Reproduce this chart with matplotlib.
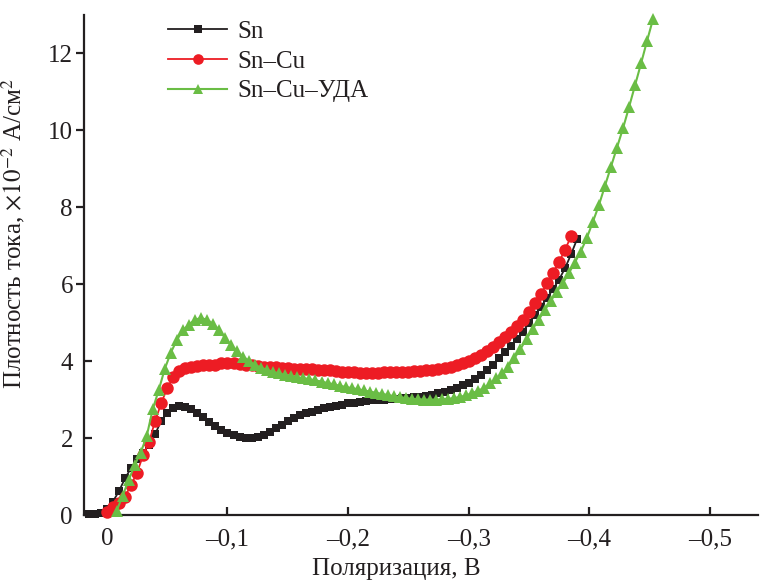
import matplotlib
matplotlib.use("Agg")
import matplotlib.pyplot as plt
from matplotlib.ticker import FixedLocator, FixedFormatter

plt.rcParams['font.family'] = ['Liberation Serif', 'DejaVu Serif']
plt.rcParams['mathtext.fontset'] = 'stix'

# ---------------- data ----------------
sn_x = [0.015, 0.01, 0.005, 0.0, -0.005, -0.01, -0.015, -0.02, -0.025, -0.03,
        -0.035, -0.04, -0.045, -0.05, -0.055, -0.06, -0.065, -0.07, -0.075, -0.08,
        -0.085, -0.09, -0.095, -0.1, -0.105, -0.11, -0.115, -0.12, -0.125, -0.13,
        -0.135, -0.14, -0.145, -0.15, -0.155, -0.16, -0.165, -0.17, -0.175, -0.18,
        -0.185, -0.19, -0.195, -0.2, -0.205, -0.21, -0.215, -0.22, -0.225, -0.23,
        -0.235, -0.24, -0.245, -0.25, -0.255, -0.26, -0.265, -0.27, -0.275, -0.28,
        -0.285, -0.29, -0.295, -0.3, -0.305, -0.31, -0.315, -0.32, -0.325, -0.33,
        -0.335, -0.34, -0.345, -0.35, -0.355, -0.36, -0.365, -0.37, -0.375, -0.38,
        -0.385, -0.39]
sn_y = [0.03, 0.03, 0.05, 0.15, 0.35, 0.62, 0.95, 1.22, 1.45, 1.62,
        1.82, 2.1, 2.45, 2.65, 2.77, 2.84, 2.82, 2.75, 2.66, 2.55,
        2.43, 2.32, 2.22, 2.14, 2.07, 2.02, 1.99, 1.99, 2.03, 2.09,
        2.17, 2.26, 2.35, 2.44, 2.52, 2.59, 2.64, 2.69, 2.74, 2.78,
        2.81, 2.84, 2.87, 2.9, 2.92, 2.95, 2.97, 2.98, 2.99, 3.0,
        3.01, 3.02, 3.03, 3.04, 3.06, 3.08, 3.1, 3.13, 3.17, 3.21,
        3.26, 3.31, 3.37, 3.44, 3.53, 3.63, 3.76, 3.91, 4.07, 4.24,
        4.4, 4.57, 4.77, 4.98, 5.2, 5.42, 5.64, 5.87, 6.12, 6.42,
        6.78, 7.18]

sncu_x = [0.0, -0.005, -0.01, -0.015, -0.02, -0.025, -0.03, -0.035, -0.04, -0.045,
          -0.05, -0.055, -0.06, -0.065, -0.07, -0.075, -0.08, -0.085, -0.09, -0.095,
          -0.1, -0.105, -0.11, -0.115, -0.12, -0.125, -0.13, -0.135, -0.14, -0.145,
          -0.15, -0.155, -0.16, -0.165, -0.17, -0.175, -0.18, -0.185, -0.19, -0.195,
          -0.2, -0.205, -0.21, -0.215, -0.22, -0.225, -0.23, -0.235, -0.24, -0.245,
          -0.25, -0.255, -0.26, -0.265, -0.27, -0.275, -0.28, -0.285, -0.29, -0.295,
          -0.3, -0.305, -0.31, -0.315, -0.32, -0.325, -0.33, -0.335, -0.34, -0.345,
          -0.35, -0.355, -0.36, -0.365, -0.37, -0.375, -0.38, -0.385]
sncu_y = [0.08, 0.2, 0.3, 0.48, 0.78, 1.1, 1.55, 1.9, 2.45, 2.9,
          3.3, 3.58, 3.74, 3.82, 3.86, 3.88, 3.89, 3.9, 3.91, 3.94,
          3.96, 3.95, 3.92, 3.9, 3.89, 3.88, 3.86, 3.85, 3.84, 3.82,
          3.81, 3.8, 3.8, 3.79, 3.79, 3.78, 3.77, 3.76, 3.75, 3.73,
          3.72, 3.71, 3.7, 3.7, 3.7, 3.7, 3.71, 3.71, 3.72, 3.72,
          3.73, 3.74, 3.75, 3.76, 3.78, 3.8, 3.83, 3.86, 3.9, 3.95,
          4.01, 4.08, 4.16, 4.26, 4.37, 4.49, 4.62, 4.76, 4.91, 5.08,
          5.28, 5.5, 5.75, 6.02, 6.3, 6.58, 6.9, 7.25]

uda_x = [-0.008, -0.013, -0.018, -0.023, -0.028, -0.033, -0.038, -0.043, -0.048, -0.053,
         -0.058, -0.063, -0.068, -0.073, -0.078, -0.083, -0.088, -0.093, -0.098, -0.103,
         -0.108, -0.113, -0.118, -0.123, -0.128, -0.133, -0.138, -0.143, -0.148, -0.153,
         -0.158, -0.163, -0.168, -0.173, -0.178, -0.183, -0.188, -0.193, -0.198, -0.203,
         -0.208, -0.213, -0.218, -0.223, -0.228, -0.233, -0.238, -0.243, -0.248, -0.253,
         -0.258, -0.263, -0.268, -0.273, -0.278, -0.283, -0.288, -0.293, -0.298, -0.303,
         -0.308, -0.313, -0.318, -0.323, -0.328, -0.333, -0.338, -0.343, -0.348, -0.353,
         -0.358, -0.363, -0.368, -0.373, -0.378, -0.383, -0.388, -0.393, -0.398, -0.403,
         -0.408, -0.413, -0.418, -0.423, -0.428, -0.433, -0.438, -0.443, -0.448, -0.453]
uda_y = [0.1, 0.5, 0.9, 1.3, 1.62, 2.05, 2.75, 3.25, 3.8, 4.22,
         4.55, 4.8, 4.95, 5.08, 5.12, 5.08, 4.97, 4.82, 4.6, 4.42,
         4.26, 4.12, 4.0, 3.9, 3.83, 3.77, 3.72, 3.68, 3.64, 3.61,
         3.58, 3.56, 3.53, 3.5, 3.47, 3.43, 3.4, 3.36, 3.33, 3.3,
         3.27, 3.24, 3.21, 3.18, 3.15, 3.12, 3.09, 3.06, 3.04, 3.02,
         3.01, 3.0, 3.0, 3.0, 3.01, 3.02, 3.04, 3.07, 3.11, 3.17,
         3.23, 3.31, 3.42, 3.55, 3.7, 3.86, 4.08, 4.32, 4.57, 4.83,
         5.07, 5.32, 5.56, 5.8, 6.02, 6.28, 6.56, 6.85, 7.2, 7.62,
         8.05, 8.55, 9.05, 9.55, 10.05, 10.6, 11.17, 11.74, 12.33, 12.9]

series_labels = ['Sn', 'Sn–Cu', 'Sn–Cu–УДА']

x_ticks = [0.0, -0.1, -0.2, -0.3, -0.4, -0.5]
x_tick_labels = ['0', '–0,1', '–0,2', '–0,3', '–0,4', '–0,5']
y_ticks_in = [0, 2, 4]
y_ticks_in_labels = ['0', '2', '4']
y_ticks_out = [6, 8, 10, 12]
y_ticks_out_labels = ['6', '8', '10', '12']

x_label = 'Поляризация, В'
y_label = 'Плотность тока, $\\times10^{-2}$ А/см$^2$'

# ---------------- figure ----------------
W, H = 760, 582
fig = plt.figure(figsize=(W / 100, H / 100), dpi=100)
ax = fig.add_axes([84 / W, 1 - 515 / H, 674 / W, 500 / H])

black = '#231f20'
red = '#ed1c24'
green = '#6abd45'

ax.plot(sn_x, sn_y, color=black, lw=1.3, marker='s', ms=6.2, mew=0,
        label=series_labels[0], clip_on=False, zorder=3)
ax.plot(sncu_x, sncu_y, color=red, lw=1.3, marker='o', ms=9, mew=0,
        label=series_labels[1], clip_on=False, zorder=4)
ax.plot(uda_x, uda_y, color=green, lw=1.5, marker='^', ms=8.5, mew=0,
        label=series_labels[2], clip_on=False, zorder=5)

ax.set_xlim(0.019, -0.54)
ax.set_ylim(0, 13)

for s in ['top', 'right']:
    ax.spines[s].set_visible(False)
for s in ['left', 'bottom']:
    ax.spines[s].set_linewidth(1.6)
    ax.spines[s].set_color(black)

ax.xaxis.set_major_locator(FixedLocator(x_ticks))
ax.xaxis.set_major_formatter(FixedFormatter(x_tick_labels))
ax.yaxis.set_major_locator(FixedLocator(y_ticks_in))
ax.yaxis.set_major_formatter(FixedFormatter(y_ticks_in_labels))
ax.yaxis.set_minor_locator(FixedLocator(y_ticks_out))
ax.yaxis.set_minor_formatter(FixedFormatter(y_ticks_out_labels))

ax.tick_params(axis='x', which='major', direction='in', length=6, width=1.6,
               pad=9.5, labelsize=18, colors=black)
ax.tick_params(axis='x', which='minor', bottom=False)
ax.tick_params(axis='y', which='major', direction='in', length=6, width=1.6,
               pad=8, labelsize=18, colors=black)
ax.tick_params(axis='y', which='minor', direction='out', length=6, width=1.6,
               pad=2, labelsize=18, colors=black)

ax.set_xlabel(x_label, fontsize=18, color=black)
ax.xaxis.set_label_coords(0.464, -0.086)
ax.set_ylabel(y_label, fontsize=18, color=black)
ax.yaxis.set_label_coords(-0.085, 0.562)

leg = ax.legend(loc='upper left', bbox_to_anchor=(168 / W, 1 - 20 / H),
                bbox_transform=fig.transFigure, frameon=False, fontsize=18,
                handlelength=2.36, handletextpad=0.4, labelspacing=0.3,
                borderpad=0, borderaxespad=0, markerscale=0.85)
for t in leg.get_texts():
    t.set_color(black)

fig.savefig('out.png', dpi=100)
